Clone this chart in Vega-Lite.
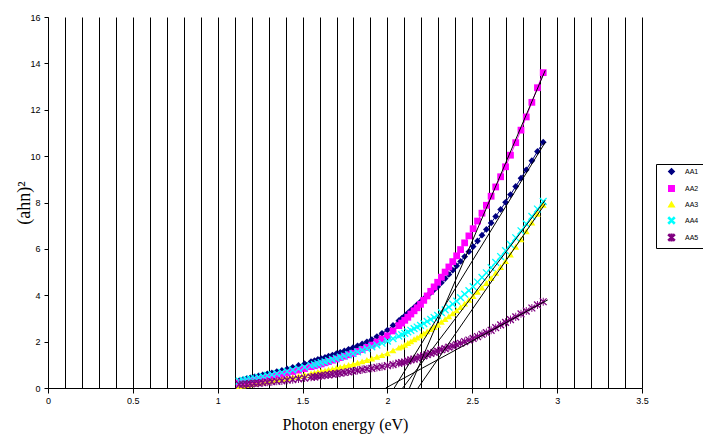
{
  "$schema": "https://vega.github.io/schema/vega-lite/v6.json",
  "width": 594,
  "height": 371,
  "autosize": "none",
  "padding": {"left": 48, "top": 17, "right": 61, "bottom": 48},
  "background": "white",
  "config": {
    "view": {"stroke": null},
    "axis": {
      "labelFont": "Liberation Sans",
      "labelFontSize": 9,
      "labelColor": "#000",
      "titleFont": "Liberation Serif",
      "titleFontWeight": "normal",
      "titleColor": "#000",
      "domainColor": "#000",
      "tickColor": "#000"
    }
  },
  "datasets": {
    "d": [
      {"e": 2.918, "AA1": 10.6, "AA2": 13.6, "AA3": 7.9, "AA4": 8.05, "AA5": 3.72},
      {"e": 2.884, "AA1": 10.2, "AA2": 12.95, "AA3": 7.51, "AA4": 7.72, "AA5": 3.58},
      {"e": 2.851, "AA1": 9.8, "AA2": 12.32, "AA3": 7.13, "AA4": 7.4, "AA5": 3.45},
      {"e": 2.818, "AA1": 9.41, "AA2": 11.69, "AA3": 6.76, "AA4": 7.08, "AA5": 3.32},
      {"e": 2.787, "AA1": 9.05, "AA2": 11.12, "AA3": 6.41, "AA4": 6.78, "AA5": 3.2},
      {"e": 2.756, "AA1": 8.69, "AA2": 10.58, "AA3": 6.09, "AA4": 6.48, "AA5": 3.07},
      {"e": 2.725, "AA1": 8.34, "AA2": 10.04, "AA3": 5.76, "AA4": 6.19, "AA5": 2.95},
      {"e": 2.696, "AA1": 8.01, "AA2": 9.54, "AA3": 5.47, "AA4": 5.92, "AA5": 2.83},
      {"e": 2.667, "AA1": 7.7, "AA2": 9.11, "AA3": 5.22, "AA4": 5.67, "AA5": 2.72},
      {"e": 2.638, "AA1": 7.4, "AA2": 8.67, "AA3": 4.97, "AA4": 5.42, "AA5": 2.6},
      {"e": 2.611, "AA1": 7.12, "AA2": 8.27, "AA3": 4.74, "AA4": 5.19, "AA5": 2.49},
      {"e": 2.583, "AA1": 6.84, "AA2": 7.88, "AA3": 4.53, "AA4": 4.97, "AA5": 2.39},
      {"e": 2.557, "AA1": 6.59, "AA2": 7.54, "AA3": 4.33, "AA4": 4.77, "AA5": 2.31},
      {"e": 2.531, "AA1": 6.34, "AA2": 7.2, "AA3": 4.15, "AA4": 4.57, "AA5": 2.22},
      {"e": 2.505, "AA1": 6.1, "AA2": 6.87, "AA3": 3.96, "AA4": 4.37, "AA5": 2.14},
      {"e": 2.48, "AA1": 5.88, "AA2": 6.56, "AA3": 3.8, "AA4": 4.2, "AA5": 2.07},
      {"e": 2.455, "AA1": 5.67, "AA2": 6.26, "AA3": 3.64, "AA4": 4.05, "AA5": 2.0},
      {"e": 2.431, "AA1": 5.46, "AA2": 5.97, "AA3": 3.49, "AA4": 3.9, "AA5": 1.93},
      {"e": 2.408, "AA1": 5.27, "AA2": 5.7, "AA3": 3.35, "AA4": 3.75, "AA5": 1.87},
      {"e": 2.385, "AA1": 5.08, "AA2": 5.45, "AA3": 3.22, "AA4": 3.62, "AA5": 1.81},
      {"e": 2.362, "AA1": 4.9, "AA2": 5.22, "AA3": 3.09, "AA4": 3.49, "AA5": 1.76},
      {"e": 2.34, "AA1": 4.72, "AA2": 5.0, "AA3": 2.97, "AA4": 3.37, "AA5": 1.7},
      {"e": 2.318, "AA1": 4.54, "AA2": 4.78, "AA3": 2.85, "AA4": 3.25, "AA5": 1.65},
      {"e": 2.296, "AA1": 4.37, "AA2": 4.56, "AA3": 2.73, "AA4": 3.13, "AA5": 1.59},
      {"e": 2.275, "AA1": 4.24, "AA2": 4.36, "AA3": 2.63, "AA4": 3.04, "AA5": 1.54},
      {"e": 2.255, "AA1": 4.11, "AA2": 4.17, "AA3": 2.54, "AA4": 2.96, "AA5": 1.49},
      {"e": 2.234, "AA1": 3.97, "AA2": 3.97, "AA3": 2.44, "AA4": 2.87, "AA5": 1.44},
      {"e": 2.214, "AA1": 3.84, "AA2": 3.78, "AA3": 2.35, "AA4": 2.78, "AA5": 1.39},
      {"e": 2.195, "AA1": 3.72, "AA2": 3.61, "AA3": 2.26, "AA4": 2.7, "AA5": 1.34},
      {"e": 2.175, "AA1": 3.59, "AA2": 3.46, "AA3": 2.17, "AA4": 2.63, "AA5": 1.29},
      {"e": 2.157, "AA1": 3.47, "AA2": 3.33, "AA3": 2.1, "AA4": 2.56, "AA5": 1.25},
      {"e": 2.138, "AA1": 3.35, "AA2": 3.19, "AA3": 2.01, "AA4": 2.49, "AA5": 1.21},
      {"e": 2.12, "AA1": 3.23, "AA2": 3.05, "AA3": 1.94, "AA4": 2.42, "AA5": 1.17},
      {"e": 2.102, "AA1": 3.11, "AA2": 2.92, "AA3": 1.86, "AA4": 2.36, "AA5": 1.12},
      {"e": 2.084, "AA1": 3.0, "AA2": 2.8, "AA3": 1.79, "AA4": 2.3, "AA5": 1.09},
      {"e": 2.067, "AA1": 2.9, "AA2": 2.69, "AA3": 1.74, "AA4": 2.24, "AA5": 1.07},
      {"e": 2.033, "AA1": 2.7, "AA2": 2.46, "AA3": 1.62, "AA4": 2.13, "AA5": 1.01},
      {"e": 2.0, "AA1": 2.5, "AA2": 2.25, "AA3": 1.5, "AA4": 2.02, "AA5": 0.96},
      {"e": 1.968, "AA1": 2.36, "AA2": 2.11, "AA3": 1.42, "AA4": 1.93, "AA5": 0.92},
      {"e": 1.938, "AA1": 2.22, "AA2": 1.98, "AA3": 1.35, "AA4": 1.85, "AA5": 0.89},
      {"e": 1.908, "AA1": 2.09, "AA2": 1.85, "AA3": 1.27, "AA4": 1.77, "AA5": 0.85},
      {"e": 1.879, "AA1": 1.99, "AA2": 1.75, "AA3": 1.21, "AA4": 1.7, "AA5": 0.82},
      {"e": 1.851, "AA1": 1.9, "AA2": 1.66, "AA3": 1.15, "AA4": 1.63, "AA5": 0.79},
      {"e": 1.824, "AA1": 1.82, "AA2": 1.58, "AA3": 1.09, "AA4": 1.56, "AA5": 0.76},
      {"e": 1.797, "AA1": 1.74, "AA2": 1.49, "AA3": 1.03, "AA4": 1.49, "AA5": 0.73},
      {"e": 1.771, "AA1": 1.67, "AA2": 1.43, "AA3": 0.99, "AA4": 1.44, "AA5": 0.7},
      {"e": 1.746, "AA1": 1.6, "AA2": 1.37, "AA3": 0.94, "AA4": 1.38, "AA5": 0.67},
      {"e": 1.722, "AA1": 1.54, "AA2": 1.31, "AA3": 0.9, "AA4": 1.33, "AA5": 0.64},
      {"e": 1.699, "AA1": 1.48, "AA2": 1.25, "AA3": 0.86, "AA4": 1.28, "AA5": 0.62},
      {"e": 1.676, "AA1": 1.42, "AA2": 1.2, "AA3": 0.82, "AA4": 1.23, "AA5": 0.6},
      {"e": 1.653, "AA1": 1.37, "AA2": 1.14, "AA3": 0.79, "AA4": 1.18, "AA5": 0.57},
      {"e": 1.632, "AA1": 1.32, "AA2": 1.09, "AA3": 0.75, "AA4": 1.13, "AA5": 0.55},
      {"e": 1.61, "AA1": 1.27, "AA2": 1.04, "AA3": 0.72, "AA4": 1.09, "AA5": 0.53},
      {"e": 1.59, "AA1": 1.23, "AA2": 1.0, "AA3": 0.69, "AA4": 1.05, "AA5": 0.5},
      {"e": 1.57, "AA1": 1.18, "AA2": 0.96, "AA3": 0.66, "AA4": 1.01, "AA5": 0.48},
      {"e": 1.55, "AA1": 1.14, "AA2": 0.92, "AA3": 0.63, "AA4": 0.97, "AA5": 0.47},
      {"e": 1.512, "AA1": 1.05, "AA2": 0.84, "AA3": 0.57, "AA4": 0.9, "AA5": 0.43},
      {"e": 1.476, "AA1": 0.97, "AA2": 0.77, "AA3": 0.52, "AA4": 0.84, "AA5": 0.39},
      {"e": 1.442, "AA1": 0.89, "AA2": 0.71, "AA3": 0.47, "AA4": 0.78, "AA5": 0.36},
      {"e": 1.409, "AA1": 0.82, "AA2": 0.65, "AA3": 0.42, "AA4": 0.72, "AA5": 0.34},
      {"e": 1.378, "AA1": 0.76, "AA2": 0.59, "AA3": 0.38, "AA4": 0.67, "AA5": 0.31},
      {"e": 1.348, "AA1": 0.71, "AA2": 0.55, "AA3": 0.34, "AA4": 0.62, "AA5": 0.29},
      {"e": 1.319, "AA1": 0.65, "AA2": 0.5, "AA3": 0.3, "AA4": 0.58, "AA5": 0.27},
      {"e": 1.292, "AA1": 0.61, "AA2": 0.46, "AA3": 0.27, "AA4": 0.54, "AA5": 0.25},
      {"e": 1.265, "AA1": 0.56, "AA2": 0.42, "AA3": 0.24, "AA4": 0.5, "AA5": 0.23},
      {"e": 1.24, "AA1": 0.52, "AA2": 0.38, "AA3": 0.21, "AA4": 0.46, "AA5": 0.21},
      {"e": 1.216, "AA1": 0.48, "AA2": 0.34, "AA3": 0.19, "AA4": 0.42, "AA5": 0.2},
      {"e": 1.192, "AA1": 0.44, "AA2": 0.31, "AA3": 0.16, "AA4": 0.39, "AA5": 0.19},
      {"e": 1.17, "AA1": 0.4, "AA2": 0.28, "AA3": 0.13, "AA4": 0.36, "AA5": 0.17},
      {"e": 1.148, "AA1": 0.36, "AA2": 0.25, "AA3": 0.11, "AA4": 0.33, "AA5": 0.16},
      {"e": 1.127, "AA1": 0.32, "AA2": 0.22, "AA3": 0.08, "AA4": 0.3, "AA5": 0.15}
    ],
    "f": [
      {"g": "AA1", "e": 2.04, "v": 0},
      {"g": "AA1", "e": 2.93, "v": 10.6},
      {"g": "AA2", "e": 2.13, "v": 0},
      {"g": "AA2", "e": 2.93, "v": 13.7},
      {"g": "AA3", "e": 2.18, "v": 0},
      {"g": "AA3", "e": 2.93, "v": 7.95},
      {"g": "AA4", "e": 2.09, "v": 0},
      {"g": "AA4", "e": 2.93, "v": 8.1},
      {"g": "AA5", "e": 1.99, "v": 0},
      {"g": "AA5", "e": 2.945, "v": 3.8}
    ]
  },
  "encoding": {
    "x": {
      "field": "e",
      "type": "quantitative",
      "scale": {"domain": [0, 3.5], "nice": false, "zero": false},
      "axis": {
        "title": "Photon energy (eV)",
        "titleFontSize": 16,
        "titleY": 28,
        "titleBaseline": "top",
        "values": [0, 0.1, 0.2, 0.3, 0.4, 0.5, 0.6, 0.7, 0.8, 0.9, 1, 1.1, 1.2, 1.3, 1.4, 1.5, 1.6, 1.7, 1.8, 1.9, 2, 2.1, 2.2, 2.3, 2.4, 2.5, 2.6, 2.7, 2.8, 2.9, 3, 3.1, 3.2, 3.3, 3.4, 3.5],
        "format": "~g",
        "labelExpr": "round(datum.value*10) % 5 == 0 ? datum.label : ''",
        "labelFlush": false,
        "labelOverlap": false,
        "labelPadding": 3,
        "grid": true,
        "gridColor": "#000",
        "gridWidth": 1,
        "gridOpacity": 1,
        "tickSize": 5,
        "tickOpacity": {"condition": {"test": "round(datum.value*10) % 5 != 0", "value": 0}, "value": 1}
      }
    },
    "y": {
      "field": "v",
      "type": "quantitative",
      "scale": {"domain": [0, 16], "nice": false},
      "axis": {
        "title": "(ahn)²",
        "titleFontSize": 18,
        "titleX": -15,
        "titleBaseline": "bottom",
        "values": [0, 2, 4, 6, 8, 10, 12, 14, 16],
        "format": "~g",
        "grid": false,
        "tickSize": 4,
        "labelPadding": 4
      }
    }
  },
  "layer": [
    {
      "data": {"name": "d"},
      "transform": [{"fold": ["AA1", "AA2", "AA3", "AA4", "AA5"], "as": ["s", "v"]}],
      "mark": {"type": "line", "strokeWidth": 1},
      "encoding": {
        "color": {
          "field": "s",
          "type": "nominal",
          "scale": {"domain": ["AA1", "AA2", "AA3", "AA4", "AA5"], "range": ["#000080", "#FF00FF", "#FFFF00", "#00FFFF", "#800080"]},
          "legend": {
            "title": null,
            "orient": "none",
            "legendX": 608,
            "legendY": 147,
            "strokeColor": "#000",
            "fillColor": "#fff",
            "padding": 4,
            "labelFont": "Liberation Sans",
            "labelFontSize": 7,
            "labelColor": "#000",
            "rowPadding": 4,
            "symbolSize": 30,
            "symbolOffset": 8,
            "labelOffset": 10
          }
        }
      }
    },
    {
      "data": {"name": "d"},
      "transform": [{"fold": ["AA1", "AA2", "AA3", "AA4", "AA5"], "as": ["p", "v"]}],
      "mark": {"type": "point", "filled": true, "size": 46, "strokeWidth": 0, "opacity": 1},
      "encoding": {
        "fill": {
          "field": "p",
          "type": "nominal",
          "scale": {"domain": ["AA1", "AA2", "AA3", "AA4", "AA5"], "range": ["#000080", "#FF00FF", "#FFFF00", "#00FFFF", "#800080"]},
          "legend": null
        },
        "shape": {
          "field": "p",
          "type": "nominal",
          "scale": {"domain": ["AA1", "AA2", "AA3", "AA4", "AA5"], "range": ["diamond", "square", "triangle-up", "M-0.86,-1.14L1.14,0.86L0.86,1.14L-1.14,-0.86ZM-1.14,0.86L0.86,-1.14L1.14,-0.86L-0.86,1.14Z", "M-0.86,-1.14L1.14,0.86L0.86,1.14L-1.14,-0.86ZM-1.14,0.86L0.86,-1.14L1.14,-0.86L-0.86,1.14ZM-0.14,-1.2L0.14,-1.2L0.14,1.2L-0.14,1.2Z"]},
          "legend": null
        },
        "order": {"field": "p", "type": "nominal"}
      }
    },
    {
      "data": {"name": "f"},
      "mark": {"type": "line", "color": "#000", "strokeWidth": 1},
      "encoding": {
        "detail": {"field": "g", "type": "nominal"}
      }
    }
  ]
}
